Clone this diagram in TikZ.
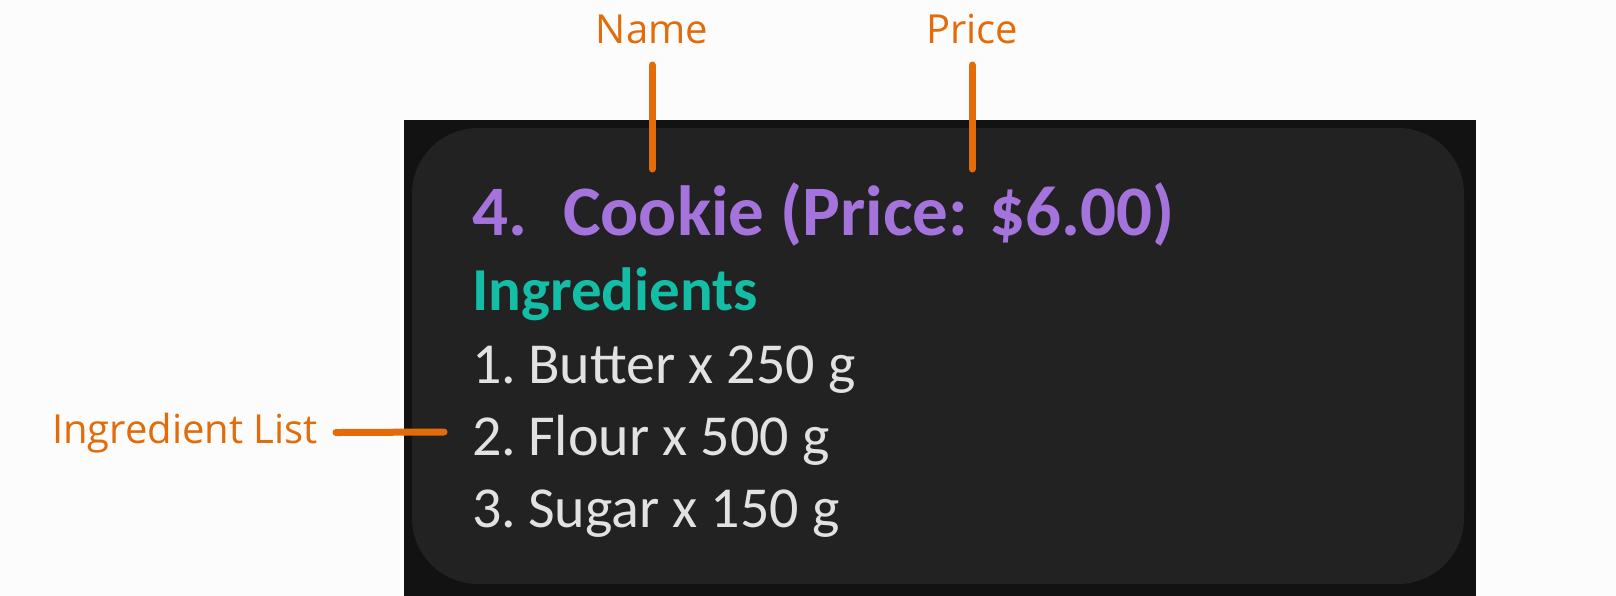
\documentclass[tikz,border=0pt]{standalone}
\usepackage{fontspec}
\setmainfont{Open Sans}
\newfontfamily\cardfont{Carlito}
\usetikzlibrary{positioning}
\definecolor{callorange}{HTML}{E36C0A}
\definecolor{cardpurple}{HTML}{A474DC}
\definecolor{cardteal}{HTML}{14BEA6}
\definecolor{cardgray}{HTML}{E2E2E2}
\definecolor{cardbg}{HTML}{222222}
\definecolor{cardframe}{HTML}{121212}
\definecolor{pagebg}{HTML}{FCFCFC}
\tikzset{
        x=1pt, y=-1pt, % one unit per screenshot pixel, y downwards
        callout/.style={draw=callorange, line width=7pt, line cap=round},
        tag/.style={text=callorange, inner sep=0pt, font=\fontsize{40}{48}\selectfont},
        heading/.style={text=cardpurple, inner sep=0pt, anchor=base west,
                font=\cardfont\bfseries\fontsize{71}{84}\selectfont},
        subheading/.style={text=cardteal, inner sep=0pt, anchor=base west,
                font=\cardfont\bfseries\fontsize{61}{72}\selectfont},
        entry/.style={text=cardgray, inner sep=0pt, anchor=base west,
                font=\cardfont\fontsize{58}{68}\selectfont}
        }

\begin{document}
\begin{tikzpicture}
        \path[use as bounding box, fill=pagebg] (0,0) rectangle (1616,596);
        \fill[cardframe] (404,120) rectangle (1476,596);
        \fill[cardbg, rounded corners=66pt] (412,128) rectangle (1464,584);
        \node[heading](title) at (472,235){4.\hspace{36pt}Cookie (Price: \$6.00)};
        \node[subheading](ingr) at (472,310){Ingredients};
        \node[entry](i1) at (472,383){1.\hspace{12pt}Butter x 250 g};
        \node[entry](i2) at (472,455){2.\hspace{12pt}Flour x 500 g};
        \node[entry](i3) at (472,527){3.\hspace{12pt}Sugar x 150 g};
        \node[tag, anchor=base](name) at (652,44){Name};
        \node[tag, anchor=base](price) at (972,44){Price};
        \node[tag, anchor=base east](ilist) at (318,443){Ingredient List};
        \coordinate (nametip) at (652,169);
        \coordinate (pricetip) at (972,169);
        \coordinate (ilisttip) at (444,432);
        \draw[callout, shorten <=21pt] (name.base) -- (nametip);
        \draw[callout, shorten <=21pt] (price.base) -- (pricetip);
        \draw[callout, shorten <=18pt] (ilist.east) -- (ilisttip);
\end{tikzpicture}
\end{document}
